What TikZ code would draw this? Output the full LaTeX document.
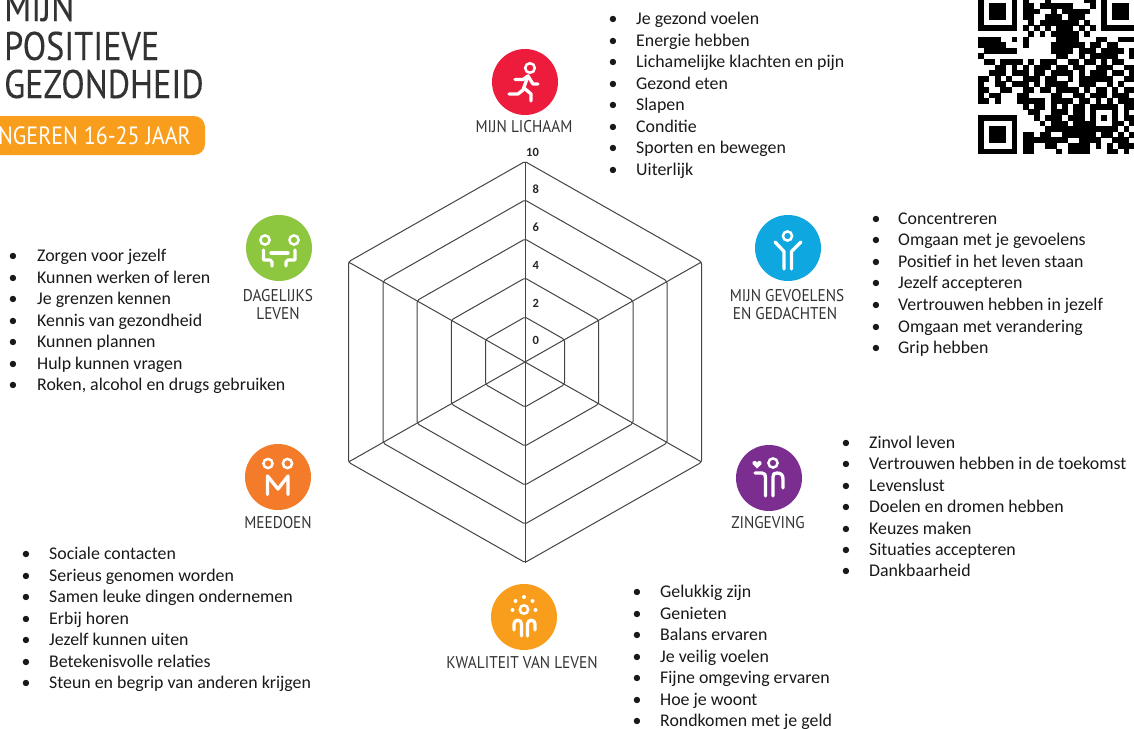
\documentclass[tikz,border=0pt]{standalone}
\usepackage{fontspec}
\setmainfont{Carlito}
\newfontfamily\headf[FakeStretch=0.9]{PT Sans}
\newfontfamily\pillf[FakeStretch=0.88]{PT Sans}
\newfontfamily\titlef[FakeStretch=0.855,FakeBold=0.2]{PT Sans}
\definecolor{cred}{HTML}{ED1C3D}
\definecolor{cblue}{HTML}{0EA7E0}
\definecolor{cpurple}{HTML}{7B2D90}
\definecolor{cyel}{HTML}{F99D1C}
\definecolor{corange}{HTML}{F47B29}
\definecolor{cgreen}{HTML}{8DC63F}
\definecolor{ink}{HTML}{333336}
\definecolor{webc}{HTML}{444444}
\tikzset{
  ringline/.style={draw=webc,line width=1pt,rounded corners=2pt,line join=round},
  spoke/.style={draw=webc,line width=1pt},
  disc/.style={circle,minimum size=66pt,inner sep=0pt},
  icon/.style={draw=white,line width=3.3pt,line cap=round,line join=round},
  iconthin/.style={draw=white,line width=2.5pt},
  captext/.style={font=\headf\fontsize{17}{18}\selectfont,text=ink,inner sep=0pt,anchor=base},
  listtext/.style={font=\fontsize{17.85}{20}\selectfont,text=black!90,inner sep=0pt,anchor=base west},
  axisnum/.style={font=\bfseries\fontsize{12.5}{14}\selectfont,text=black!85,inner sep=0pt},
  titletext/.style={font=\titlef\fontsize{40}{41}\selectfont,text=ink,inner sep=0pt,anchor=base west},
}
\newcommand{\qrrow}[2]{\foreach \c in {#2}{\fill (978+5.6*\c,-8.2+5.6*#1) rectangle ++(5.7,5.7);}}
\newcommand{\qrfinder}[2]{%
  \fill[black] (978+5.6*#1,-8.2+5.6*#2) rectangle ++(39.2,39.2);
  \fill[white] (978+5.6*#1+5.6,-8.2+5.6*#2+5.6) rectangle ++(28,28);
  \fill[black] (978+5.6*#1+11.2,-8.2+5.6*#2+11.2) rectangle ++(16.8,16.8);}
\newcommand{\bulletlist}[6]{% name, x bullet, x text, y0, dy, items
  \foreach \t [count=\i from 0] in {#6}{
    \node[listtext] (#1b\i) at (#2,#4+#5*\i+5.5) {•};
    \node[listtext] (#1t\i) at (#3,#4+#5*\i+5.5) {\t};
  }}
\newcommand{\hexring}[2]{\draw[ringline] (525,362-#2) -- (525+#1,362-#2/2) -- (525+#1,362+#2/2) -- (525,362+#2) -- (525-#1,362+#2/2) -- (525-#1,362-#2/2) -- cycle;}
\begin{document}
\begin{tikzpicture}[x=1pt,y=-1pt]
\useasboundingbox (0,0) rectangle (1134,728);
\clip (0,0) rectangle (1134,728);
\fill[white] (0,0) rectangle (1134,728);

% title
\node[titletext] (t1) at (4,21) {MIJN};
\node[titletext] (t2) at (4,60) {POSITIEVE};
\node[titletext] (t3) at (4,98) {GEZONDHEID};
\fill[cyel,rounded corners=11pt] (-20,116) rectangle (205,155);
\node[font=\pillf\fontsize{25}{26}\selectfont,text=white,inner sep=0pt,anchor=base east] (pill) at (191,144) {NGEREN 16-25 JAAR};

% QR
\begin{scope}[black]
\qrfinder{0}{0}\qrfinder{22}{0}\qrfinder{0}{22}
\qrrow{1}{8,12,19,20}
\qrrow{2}{8,9,11,12,13,14,15,16,20}
\qrrow{3}{8,9,10,13,15,16,17,18,19}
\qrrow{4}{8,9,12,13,14,16,17,18}
\qrrow{5}{9,11,12,13,14,15,16,17,19}
\qrrow{6}{8,10,12,14,15,16,18,20}
\qrrow{7}{9,11,13,14,15,16,17,19}
\qrrow{8}{0,1,2,3,6,8,14,15,16,17,21,22,25,26,27}
\qrrow{9}{0,1,2,3,4,8,13,14,15,16,17,18,20,21,23,24}
\qrrow{10}{1,2,3,4,5,6,13,14,15,16,18,19,20,22,23,24,25,27,28}
\qrrow{11}{0,14,15,18,20,21,22,23,24,27,28}
\qrrow{12}{1,2,4,5,6,7,9,11,12,13,16,17,19,20,22,24,25}
\qrrow{13}{3,4,6,8,10,11,12,14,15,17,18,21,22,23,26,27,28}
\qrrow{14}{2,3,4,6,7,8,10,11,13,14,15,16,18,20,21,22,24,25,27}
\qrrow{15}{0,1,3,5,8,9,10,12,13,16,18,19,20,21,22,23,26,27,28}
\qrrow{16}{0,3,4,6,7,8,10,12,13,14,15,18,19,20,23,25,28}
\qrrow{17}{0,1,4,5,8,9,11,12,14,15,16,17,19,21,22,24,26,27}
\qrrow{18}{0,2,3,7,8,13,14,17,18,20,21,22,24,25,26}
\qrrow{19}{0,1,3,7,8,9,10,11,13,14,15,16,18,19,21,23,25,26,27}
\qrrow{20}{8,10,11,13,15,17,18,20,21,22,23,24,26,27}
\qrrow{21}{9,10,13,14,15,17,18,20,24,26,28}
\qrrow{22}{10,12,13,14,16,17,18,20,22,24,26,27}
\qrrow{23}{11,13,14,15,17,18,19,20,24,25,27,28}
\qrrow{24}{12,13,14,15,16,17,18,19,20,21,22,23,24,26,28}
\qrrow{25}{8,9,11,12,15,16,17,18,19,20,22,23,25,27}
\qrrow{26}{8,9,10,11,12,13,14,15,18,19,20,21,24,25,26,28}
\qrrow{27}{8,9,12,13,16,17,18,19,21,23,25,26,27}
\qrrow{28}{8,9,14,16,17,18,19,23,24,26,28}
\end{scope}

% radar web
\coordinate (hub) at (525,362);
\coordinate (ptop) at (525,161.5);
\coordinate (pbot) at (525,562.5);
\coordinate (pul) at (348.5,262);
\coordinate (pur) at (701.5,262);
\coordinate (pll) at (348.5,462);
\coordinate (plr) at (701.5,462);
\draw[spoke] (ptop) -- (pbot);
\draw[spoke] (pul) -- (plr);
\draw[spoke] (pur) -- (pll);
\hexring{39.5}{45}
\hexring{73.7}{84}
\hexring{108}{123}
\hexring{142}{162}
\hexring{176.5}{200.5}
\node[axisnum] (n10) at (532.5,152.5) {10};
\node[axisnum] (n8) at (535.7,189.5) {8};
\node[axisnum] (n6) at (535.7,227.5) {6};
\node[axisnum] (n4) at (535.7,265.5) {4};
\node[axisnum] (n2) at (535.7,303.5) {2};
\node[axisnum] (n0) at (535.7,340.5) {0};

% discs
\node[disc,fill=cred] (lichaam) at (525,82) {};
\node[disc,fill=cblue] (gevoel) at (788,248) {};
\node[disc,fill=cpurple] (zin) at (769,478) {};
\node[disc,fill=cyel] (kwal) at (524,617) {};
\node[disc,fill=corange] (mee) at (278,477) {};
\node[disc,fill=cgreen] (dag) at (279,248) {};

% runner
\begin{scope}[shift={(525,82)}]
\draw[iconthin] (5,-14) circle (4.8);
\draw[icon] (-10,-2.5) -- (-2,-2.5) -- (3,-6) -- (8,2) -- (13,2);
\draw[icon] (3,-6) -- (-2,8) -- (-7,12) -- (-16,12);
\draw[icon] (-1,6) -- (6,12) -- (6,19);
\end{scope}
% feelings
\begin{scope}[shift={(788,248)}]
\draw[iconthin] (-0.5,-12) circle (4.6);
\draw[icon] (-13,-6) -- (-4,3.5) -- (-4,21);
\draw[icon] (13,-6) -- (3.5,3.5) -- (3.5,21);
\end{scope}
% purpose
\begin{scope}[shift={(769,478)}]
\draw[iconthin] (4,-15) circle (4.6);
\fill[white] (-12,-9.5) -- (-16.5,-14) .. controls (-17.5,-17.5) and (-13,-18) .. (-12,-15.5) .. controls (-11,-18) and (-6.5,-17.5) .. (-7.5,-14) -- cycle;
\draw[icon] (-14,-5) -- (-7,-5) .. controls (-4,-5) and (-3.5,-3) .. (-3.5,0) -- (-3.5,18);
\draw[icon] (4,18) -- (4,-1) .. controls (4,-4) and (5,-5) .. (8,-5) .. controls (12,-5) and (14,-3) .. (14,1) -- (14,10);
\end{scope}
% quality
\begin{scope}[shift={(524,617)}]
\draw[iconthin] (0,-7.5) circle (4.2);
\fill[white] (0,-20) circle (2);
\fill[white] (-8.5,-16) circle (2);
\fill[white] (8.5,-16) circle (2);
\fill[white] (-11.5,-7) circle (2);
\fill[white] (11.5,-7) circle (2);
\draw[icon] (-10,13) -- (-10,7) .. controls (-10,2) and (-2.5,2) .. (-2.5,7) -- (-2.5,19);
\draw[icon] (3.5,19) -- (3.5,7) .. controls (3.5,2) and (11,2) .. (11,7) -- (11,13);
\end{scope}
% participation
\begin{scope}[shift={(278,477)}]
\draw[iconthin] (-10,-13.5) circle (4.6);
\draw[iconthin] (9.5,-13.5) circle (4.6);
\draw[icon] (-10.5,17.5) -- (-10.5,-1) -- (0,12) -- (10,-1) -- (10,17.5);
\end{scope}
% daily life
\begin{scope}[shift={(279,248)}]
\draw[iconthin] (-14,-8) circle (4.6);
\draw[iconthin] (15,-8) circle (4.6);
\draw[icon] (-8,5) -- (9,5);
\draw[icon] (-15.5,2) -- (-15.5,12) -- (-9,12) -- (-7,14) -- (-7,18);
\draw[icon] (16,2) -- (16,12) -- (9,12) -- (7,14) -- (7,18);
\end{scope}

% captions
\node[captext] (c1) at (524,132) {MIJN LICHAAM};
\node[captext] (c2a) at (787,301) {MIJN GEVOELENS};
\node[captext] (c2b) at (785,319) {EN GEDACHTEN};
\node[captext] (c3) at (768,528) {ZINGEVING};
\node[captext] (c4) at (522,668) {KWALITEIT VAN LEVEN};
\node[captext] (c5) at (278,528) {MEEDOEN};
\node[captext] (c6a) at (278,301) {DAGELIJKS};
\node[captext] (c6b) at (278,319) {LEVEN};

% lists
\bulletlist{a}{608.5}{636}{19}{21.55}{Je gezond voelen,Energie hebben,Lichamelijke klachten en pijn,Gezond eten,Slapen,Conditie,Sporten en bewegen,Uiterlijk}
\bulletlist{b}{871.5}{898}{218.5}{21.6}{Concentreren,Omgaan met je gevoelens,Positief in het leven staan,Jezelf accepteren,Vertrouwen hebben in jezelf,Omgaan met verandering,Grip hebben}
\bulletlist{c}{841.5}{869}{443}{21.4}{Zinvol leven,Vertrouwen hebben in de toekomst,Levenslust,Doelen en dromen hebben,Keuzes maken,Situaties accepteren,Dankbaarheid}
\bulletlist{d}{632.5}{660}{592}{21.5}{Gelukkig zijn,Genieten,Balans ervaren,Je veilig voelen,Fijne omgeving ervaren,Hoe je woont,Rondkomen met je geld}
\bulletlist{e}{21.5}{49}{554}{21.5}{Sociale contacten,Serieus genomen worden,Samen leuke dingen ondernemen,Erbij horen,Jezelf kunnen uiten,Betekenisvolle relaties,Steun en begrip van anderen krijgen}
\bulletlist{f}{8.5}{37}{256}{21.5}{Zorgen voor jezelf,Kunnen werken of leren,Je grenzen kennen,Kennis van gezondheid,Kunnen plannen,Hulp kunnen vragen,{Roken, alcohol en drugs gebruiken}}
\end{tikzpicture}
\end{document}
